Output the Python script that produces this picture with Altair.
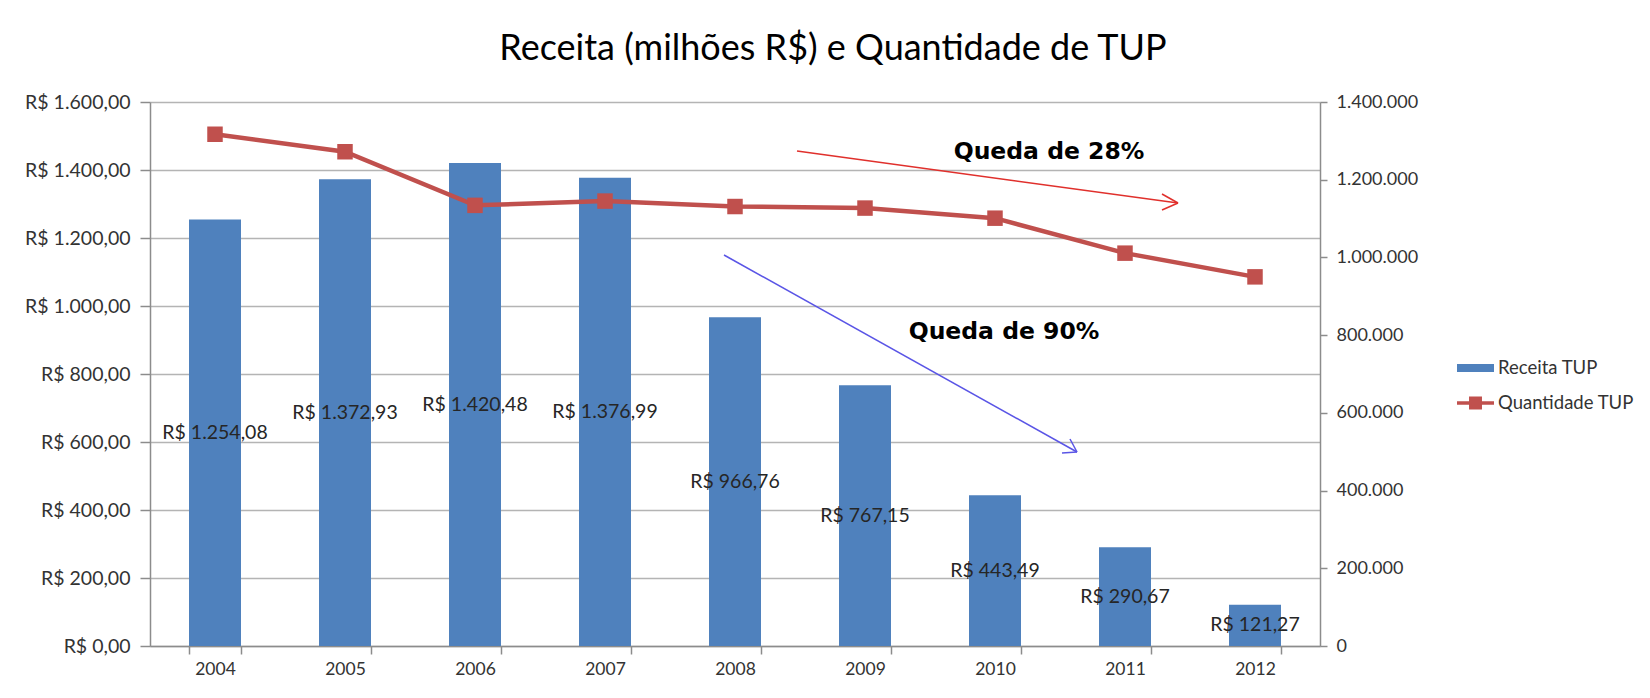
import math
import altair as alt
import pandas as pd

# ---------------- data ----------------
anos = ["2004", "2005", "2006", "2007", "2008", "2009", "2010", "2011", "2012"]
receita = [1254.08, 1372.93, 1420.48, 1376.99, 966.76, 767.15, 443.49, 290.67, 121.27]
quantidade = [1317000, 1272000, 1134000, 1145000, 1131000, 1127000, 1101000, 1011000, 950000]
serie_barra = "Receita TUP"
serie_linha = "Quantidade TUP"
titulo = "Receita (milhões R$) e Quantidade de TUP"
anotacoes = ["Queda de  28%", "Queda de  90%"]
ticks_esq = [0, 200, 400, 600, 800, 1000, 1200, 1400, 1600]
ticks_dir = [0, 200000, 400000, 600000, 800000, 1000000, 1200000, 1400000]


def brl(v):
    s = f"{v:,.2f}"
    return "R$ " + s.replace(",", "_").replace(".", ",").replace("_", ".")


df = pd.DataFrame({
    "ano": anos,
    "receita": receita,
    "quantidade": quantidade,
    "s1": serie_barra,
    "s2": serie_linha,
})
df["meio"] = df["receita"] / 2
df["rotulo"] = [brl(v) for v in receita]

# ---------------- layout (pixels) ----------------
W, H = 1170, 544
PX, PY = 150, 102          # plot origin on the page
PAD_L, PAD_T = PX - 8, PY - 8

FONT = "Lato"
BLUE = "#4f81bd"
RED = "#c0504d"
GRID = "#b4b4b4"
AXC = "#8c8c8c"
TXT = "#333333"

# annotation arrows, page coordinates -> plot coordinates
def seg(x1, y1, x2, y2, c):
    return {"x": x1 - PX, "y": y1 - PY, "x2": x2 - PX, "y2": y2 - PY, "cor": c}

ARROW_RED = "#e0302c"
ARROW_BLUE = "#5a55e6"
segs = [
    seg(797, 151, 1178, 203, ARROW_RED),
    seg(1178, 203, 1162, 194, ARROW_RED),
    seg(1178, 203, 1162, 210, ARROW_RED),
    seg(724, 255, 1077, 452, ARROW_BLUE),
    seg(1077, 452, 1070, 439, ARROW_BLUE),
    seg(1077, 452, 1062, 453, ARROW_BLUE),
]
df_seg = pd.DataFrame(segs)
df_txt = pd.DataFrame({
    "x": [1049 - PX, 1004 - PX],
    "y": [152 - PY, 332 - PY],
    "t": anotacoes,
})

x_enc = alt.X(
    "ano:O",
    sort=anos,
    scale=alt.Scale(paddingInner=0.6, paddingOuter=0.3),
    axis=alt.Axis(
        title=None, labelAngle=0, tickBand="extent", tickSize=8, labelPadding=6,
        domainColor=AXC, tickColor=AXC, domainWidth=1.5, tickWidth=1.5,
        labelFont=FONT, labelFontSize=17.5, labelColor=TXT, grid=False,
    ),
)

eixo_esq = alt.Axis(
    orient="left", title=None, values=ticks_esq,
    labelExpr="'R$ ' + replace(replace(replace(format(datum.value, ',.2f'), ',', '_'), '.', ','), '_', '.')",
    tickSize=10, labelPadding=10, grid=True, gridColor=GRID, gridWidth=1.5,
    domainColor=AXC, tickColor=AXC, domainWidth=1.5, tickWidth=1.5,
    labelFont=FONT, labelFontSize=19.5, labelColor=TXT,
)
eixo_dir = alt.Axis(
    orient="right", title=None, values=ticks_dir,
    labelExpr="replace(format(datum.value, ','), regexp(',', 'g'), '.')",
    tickSize=7, labelPadding=9, grid=False,
    domainColor=AXC, tickColor=AXC, domainWidth=1.5, tickWidth=1.5,
    labelFont=FONT, labelFontSize=18, labelColor=TXT,
)

escala_esq = alt.Scale(domain=[0, 1600], nice=False)

barras = alt.Chart(df).mark_bar().encode(
    x=x_enc,
    y=alt.Y("receita:Q", scale=escala_esq, axis=eixo_esq),
    color=alt.Color(
        "s1:N",
        scale=alt.Scale(domain=[serie_barra], range=[BLUE]),
        legend=alt.Legend(
            title=None, orient="none", legendX=1457 - PX, legendY=368 - PY - 18.5,
            symbolType="M-1,-0.22H1V0.22H-1Z", symbolSize=1369, symbolStrokeWidth=0,
            symbolFillColor=BLUE, labelFont=FONT, labelFontSize=18.5, labelColor=TXT,
            labelOffset=4, padding=0,
        ),
    ),
)

rotulos = alt.Chart(df).mark_text(font=FONT, fontSize=19.5, color="#262626").encode(
    x=x_enc,
    y=alt.Y("meio:Q", scale=escala_esq, axis=eixo_esq),
    text="rotulo:N",
)

esquerda = alt.layer(barras, rotulos)

linha = alt.Chart(df).mark_line(
    strokeWidth=4.5,
    point=alt.OverlayMarkDef(shape="square", size=240, filled=True, opacity=1),
).encode(
    x=x_enc,
    y=alt.Y("quantidade:Q", scale=alt.Scale(domain=[0, 1400000], nice=False), axis=eixo_dir),
    color=alt.Color(
        "s2:N",
        scale=alt.Scale(domain=[serie_linha], range=[RED]),
        legend=alt.Legend(
            title=None, orient="none", legendX=1457 - PX, legendY=403 - PY - 18.5,
            symbolType="M-1,-0.1H1V0.1H-1Z M-0.35,-0.35H0.35V0.35H-0.35Z",
            symbolSize=1369, symbolStrokeWidth=0,
            symbolFillColor=RED, symbolStrokeColor=RED,
            labelFont=FONT, labelFontSize=18.5, labelColor=TXT,
            labelOffset=4, padding=0,
        ),
    ),
)

setas = alt.Chart(df_seg).mark_rule(strokeWidth=1.5).encode(
    x=alt.X("x:Q", scale=None),
    x2="x2:Q",
    y=alt.Y("y:Q", scale=None),
    y2="y2:Q",
    color=alt.Color("cor:N", scale=None),
)

textos = alt.Chart(df_txt).mark_text(
    font="DejaVu Sans", fontWeight="bold", fontSize=23.5, color="black",
    align="center", baseline="middle",
).encode(
    x=alt.X("x:Q", scale=None),
    y=alt.Y("y:Q", scale=None),
    text="t:N",
)

chart = alt.layer(esquerda, linha, setas, textos).resolve_scale(
    y="independent", color="independent"
).properties(
    width=W,
    height=H,
    autosize=alt.AutoSizeParams(type="none"),
    padding={"left": PAD_L, "top": PAD_T, "right": 1634 - PAD_L - W, "bottom": 38},
    background="white",
    title=alt.TitleParams(
        titulo, font=FONT, fontSize=36, fontWeight="normal", color="black",
        anchor="middle", dx=98, baseline="bottom", offset=-12,
    ),
).configure_view(stroke=None)

chart.save("out.html", embed_options={"renderer": "svg", "actions": False})
